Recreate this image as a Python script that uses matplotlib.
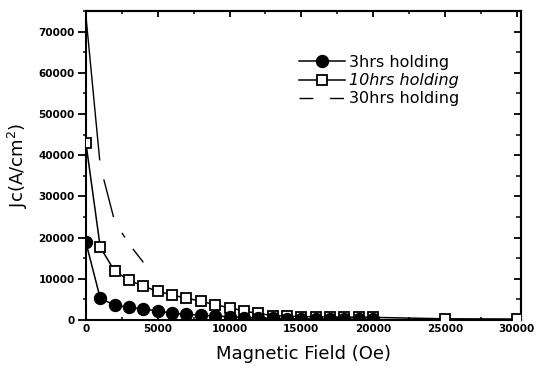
import matplotlib
matplotlib.use("Agg")
import matplotlib.pyplot as plt
from matplotlib.lines import Line2D
from matplotlib.ticker import MultipleLocator

# Jc vs applied field for three holding times
field_3h = [0, 1000, 2000, 3000, 4000, 5000, 6000, 7000, 8000, 9000, 10000,
            11000, 12000, 13000, 14000, 15000, 16000, 17000, 18000, 19000, 20000]
jc_3h = [18900, 5300, 3600, 3100, 2700, 2200, 1700, 1400, 1200, 1000, 800,
         600, 500, 400, 350, 300, 300, 250, 250, 200, 200]

field_10h = [0, 1000, 2000, 3000, 4000, 5000, 6000, 7000, 8000, 9000, 10000,
             11000, 12000, 13000, 14000, 15000, 16000, 17000, 18000, 19000, 20000,
             25000, 30000]
jc_10h = [43100, 17700, 11900, 9700, 8200, 7000, 6100, 5300, 4600, 3700, 3000,
          2200, 1600, 1100, 950, 850, 800, 750, 700, 700, 650,
          300, 250]

field_30h = [0, 1000, 2000, 3000, 4000]
jc_30h = [74000, 37500, 24000, 18500, 14000]

labels = ["3hrs holding", "10hrs holding", "30hrs holding"]

fig = plt.figure(figsize=(5.4, 3.7), dpi=100)
ax = fig.add_axes([0.159, 0.135, 0.806, 0.835])

ax.plot(field_10h, jc_10h, color="black", lw=1.1, marker="s", ms=7.5,
        mfc="white", mec="black", mew=1.3, zorder=3)
ax.plot(field_3h, jc_3h, color="black", lw=1.1, marker="o", ms=8.6,
        mfc="black", mec="black", zorder=4)
# the scanned 30 h curve shows one long stroke, then shorter broken ones
dashed, = ax.plot(field_30h, jc_30h, color="black", lw=1.0, zorder=2)
dashed.set_dashes([105, 14, 28, 13, 4, 10])

ax.set_xlim(0, 30300)
ax.set_ylim(0, 75000)
ax.xaxis.set_major_locator(MultipleLocator(5000))
ax.xaxis.set_minor_locator(MultipleLocator(2500))
ax.yaxis.set_major_locator(MultipleLocator(10000))
ax.yaxis.set_minor_locator(MultipleLocator(5000))

for s in ax.spines.values():
    s.set_linewidth(1.5)

ax.tick_params(axis="y", which="major", direction="out", length=6, width=1.3)
ax.tick_params(axis="y", which="minor", direction="out", length=2.5, width=1.1)
ax.tick_params(axis="x", which="major", direction="in", length=4, width=1.3)
ax.tick_params(axis="x", which="minor", direction="in", length=2.5, width=1.1)
for lab in ax.get_xticklabels() + ax.get_yticklabels():
    lab.set_fontweight("bold")
    lab.set_fontsize(7.5)
ax.tick_params(axis="x", pad=3)
ax.tick_params(axis="y", pad=2)

top = ax.secondary_xaxis("top")
top.xaxis.set_major_locator(MultipleLocator(5000))
top.xaxis.set_minor_locator(MultipleLocator(2500))
top.tick_params(which="major", direction="in", length=4, width=1.3, labeltop=False)
top.tick_params(which="minor", direction="in", length=2.5, width=1.1)
top.spines["top"].set_linewidth(1.5)

right = ax.secondary_yaxis("right")
right.yaxis.set_major_locator(MultipleLocator(10000))
right.yaxis.set_minor_locator(MultipleLocator(5000))
right.tick_params(which="major", direction="in", length=5, width=1.3, labelright=False)
right.tick_params(which="minor", direction="in", length=3.5, width=1.1)
right.spines["right"].set_linewidth(1.5)

ax.set_xlabel("Magnetic Field (Oe)", fontsize=13, labelpad=8)
ax.set_ylabel(r"Jc(A/cm$^2$)", fontsize=13, labelpad=6)

handles = [
    Line2D([], [], color="black", lw=1.1, marker="o", ms=8.6, mfc="black"),
    Line2D([], [], color="black", lw=1.1, marker="s", ms=7.5, mfc="white",
           mec="black", mew=1.3),
    Line2D([], [], color="black", lw=1.0, dashes=(10, 12)),
]
leg = ax.legend(handles, labels, loc="upper left", bbox_to_anchor=(0.49, 0.858),
                frameon=False, fontsize=11.5, handlelength=2.9,
                handletextpad=0.25, labelspacing=0.2, borderpad=0,
                borderaxespad=0)
leg.get_texts()[1].set_fontstyle("italic")

fig.savefig("out.png", dpi=100)
